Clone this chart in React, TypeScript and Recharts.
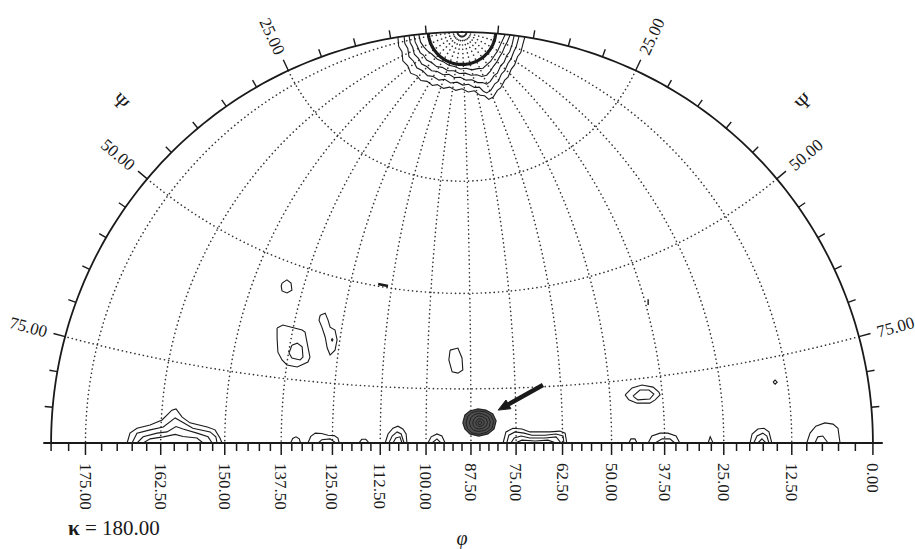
import { ScatterChart, Scatter, XAxis, YAxis, Label } from 'recharts'

type Pt = [number, number]
type XY = { x: number; y: number }

// chart units: stereographic net, primitive radius = 100
const NET_R = 100

// φ along the equator, ψ measured from the pole at the top
const PHI_LABELS = [0, 12.5, 25, 37.5, 50, 62.5, 75, 87.5, 100, 112.5, 125, 137.5, 150, 162.5, 175]
const PHI_MINOR_STEP = 2.5
const PHI_MERIDIANS = [12.5, 25, 37.5, 50, 62.5, 75, 87.5, 100, 112.5, 125, 137.5, 150, 162.5, 175]
const PSI_CIRCLES = [25, 50, 75]
const PSI_LABELS = [25, 50, 75]
const PSI_TICKS = [5, 10, 15, 20, 25, 30, 35, 40, 45, 50, 55, 60, 65, 70, 75, 80, 85]
const PSI_SYMBOL_AT = 45
const KAPPA = 180

// contour levels that follow ψ circles round the pole
const POLE_RINGS = [0.7, 4.7]

// wavy contours round the pole (x, y in net units)
const TOP_CONTOURS: Pt[][] = [
  [[-15.6, 98.7], [-15.4, 96.5], [-14.6, 95.2], [-14.4, 93.0], [-13.2, 91.8], [-12.5, 90.0], [-11.0, 89.4], [-10.0, 88.2], [-8.5, 88.0], [-7.2, 87.0], [-6.0, 87.2], [-4.5, 86.3], [-3.0, 86.6], [-1.5, 85.8], [0, 86.2], [1.5, 85.4], [3.0, 85.7], [4.4, 84.6], [5.5, 84.5], [6.5, 83.6], [7.6, 84.2], [8.6, 85.8], [9.4, 86.4], [10.4, 88.3], [11.2, 89.0], [12.0, 91.0], [12.8, 92.0], [13.5, 94.0], [14.3, 95.0], [14.8, 97.0], [15.3, 98.8]],
  [[-14.1, 99.0], [-13.9, 97.2], [-13.2, 96.0], [-12.9, 94.0], [-11.8, 92.9], [-11.0, 91.3], [-9.6, 90.6], [-8.4, 89.4], [-7.0, 89.2], [-5.6, 88.3], [-4.2, 88.5], [-2.8, 87.6], [-1.2, 87.8], [0.2, 87.1], [1.6, 87.3], [3.0, 86.5], [4.2, 86.6], [5.2, 85.6], [6.0, 85.2], [7.0, 85.8], [8.0, 87.4], [8.8, 88.0], [9.6, 89.8], [10.4, 90.6], [11.2, 92.4], [11.9, 93.4], [12.6, 95.2], [13.2, 96.4], [13.9, 99.0]],
  [[-12.9, 99.2], [-12.6, 97.4], [-12.0, 96.3], [-11.6, 94.6], [-10.6, 93.6], [-9.8, 92.2], [-8.6, 91.6], [-7.4, 90.6], [-6.0, 90.4], [-4.6, 89.6], [-3.2, 89.7], [-1.8, 88.9], [-0.4, 89.0], [1.0, 88.3], [2.4, 88.4], [3.8, 87.7], [5.0, 87.7], [6.0, 87.3], [6.9, 88.0], [7.8, 89.4], [8.6, 90.0], [9.4, 91.8], [10.2, 92.6], [10.9, 94.3], [11.6, 95.2], [12.2, 97.0], [12.7, 99.2]],
  [[-11.7, 99.3], [-11.4, 97.6], [-10.9, 96.6], [-10.2, 95.0], [-9.4, 94.4], [-8.6, 93.2], [-7.4, 92.6], [-6.2, 91.6], [-4.8, 91.4], [-3.4, 90.6], [-2.0, 90.6], [-0.6, 89.9], [0.8, 90.0], [2.2, 89.5], [3.6, 89.6], [4.8, 89.2], [6.0, 89.5], [6.9, 90.5], [7.6, 91.6], [8.4, 92.6], [9.1, 93.9], [9.8, 95.0], [10.4, 96.5], [11.0, 97.6], [11.7, 99.3]],
  [[-10.5, 99.4], [-10.1, 97.6], [-9.3, 96.4], [-8.4, 95.4], [-7.3, 94.6], [-6.0, 93.4], [-4.6, 92.8], [-3.2, 91.9], [-1.8, 91.6], [-0.4, 91.0], [1.0, 91.2], [2.4, 90.8], [3.8, 91.1], [5.1, 91.2], [6.2, 92.2], [7.0, 92.9], [7.9, 94.3], [8.6, 95.3], [9.4, 97.0], [10.5, 99.4]],
]

// contours sitting on the equator
const FOOT_CONTOURS: Pt[][] = [
  [[-81.5, 0], [-80.8, 2.4], [-79.1, 3.6], [-75.9, 4.4], [-73.0, 5.6], [-70.6, 8.0], [-69.6, 8.3], [-68.1, 6.3], [-66.2, 4.9], [-62.0, 3.9], [-60.1, 3.2], [-58.9, 1.2], [-58.4, 0]],
  [[-80.3, 0], [-79.1, 2.4], [-75.9, 3.2], [-72.7, 3.9], [-69.8, 6.1], [-68.1, 5.1], [-65.5, 3.6], [-61.3, 2.7], [-59.9, 1.5], [-59.6, 0]],
  [[-79.1, 0], [-77.6, 1.5], [-74.2, 2.4], [-71.8, 2.7], [-69.6, 4.0], [-67.9, 3.4], [-64.5, 2.4], [-61.8, 1.5], [-60.8, 0]],
  [[-77.6, 0], [-75.9, 1.0], [-72.7, 1.5], [-69.8, 2.1], [-67.9, 1.6], [-64.5, 1.2], [-63.0, 0]],
  [[-41.7, 0], [-41.2, 1.1], [-40.4, 1.5], [-39.6, 1.0], [-39.3, 0]],
  [[-37.5, 0], [-36.8, 1.6], [-35.7, 2.4], [-34.2, 2.3], [-32.6, 1.9], [-31.1, 1.8], [-30.2, 1.2], [-29.9, 0]],
  [[-35.0, 0], [-34.1, 0.8], [-32.1, 1.0], [-30.7, 0]],
  [[-25.1, 0], [-24.4, 0.9], [-23.4, 0.9], [-22.6, 0]],
  [[-18.7, 0], [-18.0, 2.2], [-16.8, 3.6], [-15.6, 4.1], [-14.4, 3.4], [-13.6, 2.2], [-13.4, 0]],
  [[-17.8, 0], [-17.0, 1.7], [-15.8, 2.7], [-14.8, 2.2], [-14.1, 0]],
  [[-16.8, 0], [-16.1, 1.2], [-15.1, 1.5], [-14.6, 0]],
  [[-8.3, 0], [-7.5, 1.5], [-6.1, 2.2], [-4.9, 1.7], [-4.1, 0]],
  [[-7.3, 0], [-6.1, 1.0], [-5.1, 0]],
  [[10.0, 0], [10.7, 2.7], [12.4, 3.6], [14.6, 3.4], [16.5, 2.7], [19.0, 2.7], [21.4, 2.7], [23.8, 2.9], [25.1, 2.4], [25.5, 0]],
  [[10.9, 0], [11.4, 1.9], [12.9, 2.7], [15.1, 2.4], [17.0, 1.9], [20.2, 1.9], [22.9, 2.2], [24.6, 1.7], [24.8, 0]],
  [[11.9, 0], [12.7, 1.2], [14.4, 1.7], [16.5, 1.2], [20.2, 1.2], [22.9, 1.5], [24.1, 0]],
  [[12.9, 0], [14.6, 0.7], [17.8, 0.5], [20.9, 0.7], [22.9, 0]],
  [[40.6, 0], [41.1, 1.0], [42.1, 1.0], [42.6, 0]],
  [[45.3, 0], [46.2, 1.7], [48.2, 2.4], [50.1, 2.4], [52.1, 1.7], [53.0, 0]],
  [[47.0, 0], [48.7, 1.0], [50.6, 1.0], [51.8, 0]],
  [[59.9, 0], [60.4, 1.5], [61.1, 0]],
  [[70.1, 0], [70.6, 2.2], [72.0, 3.4], [73.5, 3.6], [74.7, 2.7], [75.4, 0]],
  [[71.0, 0], [71.8, 1.7], [73.2, 2.4], [74.2, 1.7], [74.7, 0]],
  [[72.0, 0], [73.0, 1.0], [74.0, 0]],
  [[83.9, 0], [84.7, 2.4], [86.1, 4.1], [88.3, 4.9], [90.3, 4.6], [91.5, 3.6], [92.0, 0]],
  [[85.9, 0], [86.6, 1.5], [87.8, 1.7], [89.1, 0]],
]

// closed contours inside the net
const ISLANDS: Pt[][] = [
  [[-2.9, 22.6], [-1.0, 23.1], [0, 20.7], [0.2, 17.8], [-1.0, 17.0], [-2.4, 17.3], [-3.2, 20.2], [-2.9, 22.6]],
  [[39.7, 11.7], [41.4, 13.4], [43.8, 14.1], [46.5, 13.6], [47.9, 12.4], [48.2, 11.7], [47.0, 10.5], [45.7, 9.7], [42.6, 9.7], [40.6, 10.5], [39.7, 11.7]],
  [[41.6, 11.4], [43.3, 12.9], [45.5, 12.9], [46.7, 11.9], [45.7, 10.7], [42.8, 10.5], [41.6, 11.4]],
  [[75.7, 14.8], [76.2, 15.3], [76.7, 14.8], [76.2, 14.3], [75.7, 14.8]],
  [[-43.8, 38.9], [-42.6, 39.7], [-41.6, 38.9], [-41.4, 37.2], [-42.6, 36.5], [-43.8, 37.0], [-44.0, 38.2], [-43.8, 38.9]],
  [[-45.0, 28.0], [-43.6, 28.7], [-38.9, 27.5], [-38.2, 27.0], [-37.5, 23.4], [-37.0, 20.9], [-37.5, 19.7], [-40.1, 18.5], [-42.6, 19.0], [-43.8, 20.2], [-44.8, 22.1], [-45.0, 25.5], [-45.0, 28.0]],
  [[-41.4, 23.8], [-40.1, 24.3], [-38.9, 23.4], [-38.7, 20.9], [-39.4, 20.2], [-41.4, 20.7], [-42.1, 21.9], [-41.4, 23.8]],
  [[-34.5, 31.1], [-33.3, 31.6], [-32.6, 29.9], [-32.1, 28.2], [-30.9, 27.5], [-30.4, 25.1], [-30.9, 22.6], [-32.1, 21.4], [-32.8, 23.1], [-33.3, 25.8], [-34.1, 28.2], [-34.8, 29.9], [-34.5, 31.1]],
  [[-31.8, 25.1], [-31.6, 25.4], [-31.4, 25.1], [-31.6, 24.8], [-31.8, 25.1]],
]

// short streaks
const SPECKS: Pt[][] = [
  [[-20.4, 38.7], [-18.0, 38.2]],
  [[45.3, 35.0], [45.3, 33.6]],
]

// strong peak marked by the arrow
const PEAK_OUTLINE: Pt[] = [[0.2, 4.9], [0.7, 6.8], [1.9, 7.8], [3.9, 8.3], [5.8, 8.0], [7.5, 7.1], [8.3, 5.4], [7.8, 3.4], [6.3, 2.2], [4.1, 1.7], [1.9, 2.2], [0.7, 3.4], [0.2, 4.9]]
const PEAK_RINGS: Pt[][] = [
  [[1.0, 4.9], [1.4, 6.5], [2.4, 7.4], [4.0, 7.8], [5.6, 7.6], [7.0, 6.8], [7.7, 5.2], [7.3, 3.6], [6.0, 2.6], [4.1, 2.1], [2.3, 2.5], [1.3, 3.6], [1.0, 4.9]],
  [[1.8, 4.9], [2.2, 6.2], [3.0, 6.9], [4.0, 7.2], [5.2, 7.0], [6.4, 6.4], [6.9, 5.1], [6.6, 3.8], [5.6, 3.1], [4.1, 2.8], [2.8, 3.1], [2.1, 3.9], [1.8, 4.9]],
  [[2.6, 4.9], [2.9, 5.8], [3.5, 6.4], [4.1, 6.6], [5.0, 6.4], [5.9, 5.9], [6.2, 5.0], [5.9, 4.1], [5.1, 3.6], [4.1, 3.4], [3.3, 3.6], [2.8, 4.2], [2.6, 4.9]],
  [[3.3, 4.9], [3.6, 5.5], [4.1, 5.9], [4.8, 5.8], [5.3, 5.4], [5.4, 4.8], [5.0, 4.2], [4.1, 4.0], [3.6, 4.3], [3.3, 4.9]],
  [[3.9, 4.9], [4.1, 5.3], [4.6, 5.3], [4.8, 4.9], [4.5, 4.5], [4.1, 4.5], [3.9, 4.9]],
]
const ARROW_SHAFT: Pt[] = [[19.7, 14.1], [11.3, 9.4]]
const ARROW_HEAD: Pt[] = [[8.8, 8.0], [11.9, 8.35], [10.7, 10.45], [8.8, 8.0]]

const INK = '#1a1a1a'
const SERIF = "'Liberation Serif', 'DejaVu Serif', serif"

const rad = (d: number) => (d * Math.PI) / 180
const steps = (a: number, b: number, s: number) => {
  const out: number[] = []
  for (let v = a; v <= b + 1e-9; v += s) out.push(v)
  return out
}
// stereographic net with the ψ = 0 pole on the primitive
const project = (phi: number, psi: number): XY => {
  const sp = Math.sin(rad(psi))
  const d = 1 + Math.sin(rad(phi)) * sp
  return { x: (NET_R * Math.cos(rad(phi)) * sp) / d, y: (NET_R * Math.cos(rad(psi))) / d }
}
const toXY = (pts: Pt[]): XY[] => pts.map(([x, y]) => ({ x, y }))

const phiToX = (phi: number) => NET_R * Math.tan(rad((90 - phi) / 2))
const PHI_TICK_X = steps(0, 180, PHI_MINOR_STEP).map(phiToX)

const meridians = PHI_MERIDIANS.map((phi) => steps(0, 90, 1).map((psi) => project(phi, psi)))
const parallels = PSI_CIRCLES.map((psi) => steps(0, 180, 1).map((phi) => project(phi, psi)))
const poleRings = POLE_RINGS.map((psi) => steps(0, 180, 2).map((phi) => project(phi, psi)))
const primitive = steps(0, 180, 1).map((t) => ({ x: NET_R * Math.cos(rad(t)), y: NET_R * Math.sin(rad(t)) }))
const baseline = [{ x: -101.9, y: 0 }, { x: 102.4, y: 0 }]

const psiTickData = [-1, 1].flatMap((side) =>
  PSI_TICKS.map((psi) => ({ x: side * NET_R * Math.sin(rad(psi)), y: NET_R * Math.cos(rad(psi)), psi, side }))
)
const LABEL_R = 109.2
const SYMBOL_R = 117.5
const psiLabelData = [-1, 1].flatMap((side) =>
  PSI_LABELS.map((psi) => ({
    x: side * LABEL_R * Math.sin(rad(psi)),
    y: LABEL_R * Math.cos(rad(psi)),
    psi,
    side,
    text: psi.toFixed(2),
  }))
).concat(
  [-1, 1].map((side) => ({
    x: side * SYMBOL_R * Math.sin(rad(PSI_SYMBOL_AT)),
    y: SYMBOL_R * Math.cos(rad(PSI_SYMBOL_AT)),
    psi: PSI_SYMBOL_AT,
    side,
    text: 'Ψ',
  }))
)

const Nothing = () => <g />

const PsiTick = (p: any) => {
  const { cx, cy, payload } = p
  const a = rad(payload.psi)
  const len = PSI_LABELS.includes(payload.psi) ? 12 : 8
  return (
    <line
      x1={cx}
      y1={cy}
      x2={cx + payload.side * Math.sin(a) * len}
      y2={cy - Math.cos(a) * len}
      stroke={INK}
      strokeWidth={1.4}
    />
  )
}

const PsiLabel = (p: any) => {
  const { cx, cy, payload } = p
  const rot = -payload.side * (90 - payload.psi)
  const big = payload.text === 'Ψ'
  return (
    <text
      transform={`translate(${cx},${cy}) rotate(${rot})`}
      textAnchor="middle"
      dy="0.35em"
      fontFamily={SERIF}
      fontSize={big ? 20 : 17}
      fill={INK}
    >
      {payload.text}
    </text>
  )
}

const PhiTick = (p: any) => {
  const { x, y, payload } = p
  const raw = 90 - (2 * Math.atan(payload.value / NET_R) * 180) / Math.PI
  const phi = Math.round(raw / PHI_MINOR_STEP) * PHI_MINOR_STEP
  const major = PHI_LABELS.includes(phi)
  return (
    <g>
      <line x1={x} y1={y} x2={x} y2={y + (major ? 12 : 8)} stroke={INK} strokeWidth={1.5} />
      {major && (
        <text
          transform={`translate(${x},${y + 20}) rotate(90)`}
          dy="0.35em"
          fontFamily={SERIF}
          fontSize={17}
          fill={INK}
        >
          {phi.toFixed(2)}
        </text>
      )}
    </g>
  )
}

const Captions = (p: any) => {
  const vb = p.viewBox ?? { x: 10, y: 443, width: 904, height: 70 }
  const mid = vb.x + vb.width / 2
  return (
    <g fontFamily={SERIF} fill={INK}>
      <text x={mid - 394} y={vb.y + 92} fontSize={21}>
        <tspan fontWeight="bold">κ</tspan>
        {` = ${KAPPA.toFixed(2)}`}
      </text>
      <text x={mid} y={vb.y + 102} fontSize={20} fontStyle="italic" textAnchor="middle">
        φ
      </text>
    </g>
  )
}

const dotted = { stroke: '#333', strokeWidth: 1.6, strokeDasharray: '0.1 4.2', strokeLinecap: 'round' }
const contour = { stroke: INK, strokeWidth: 1.1 }

const path = (key: string, data: XY[], style: object) => (
  <Scatter key={key} data={data} line={style} shape={Nothing} isAnimationActive={false} />
)

export default function App() {
  return (
    <div style={{ position: 'absolute', left: 0, top: 0, background: '#fff' }}>
      <ScatterChart width={915} height={549} margin={{ top: 11.5, right: 1, bottom: 36, left: 10 }}>
        <XAxis
          type="number"
          dataKey="x"
          domain={[-110, 110]}
          ticks={PHI_TICK_X}
          interval={0}
          axisLine={false}
          tickLine={false}
          tickSize={0}
          tickMargin={0}
          height={70}
          tick={PhiTick}
        >
          <Label content={Captions} />
        </XAxis>
        <YAxis type="number" dataKey="y" domain={[0, 105]} hide />

        {meridians.map((d, i) => path(`m${i}`, d, dotted))}
        {parallels.map((d, i) => path(`p${i}`, d, dotted))}

        {poleRings.map((d, i) => path(`r${i}`, d, { stroke: INK, strokeWidth: i === 0 ? 1 : 3.2 }))}
        {TOP_CONTOURS.map((c, i) => path(`t${i}`, toXY(c), contour))}
        {FOOT_CONTOURS.map((c, i) => path(`f${i}`, toXY(c), contour))}
        {ISLANDS.map((c, i) => path(`i${i}`, toXY(c), contour))}
        {SPECKS.map((c, i) => path(`s${i}`, toXY(c), { stroke: INK, strokeWidth: i === 0 ? 2.4 : 1.4 }))}
        {path('peak', toXY(PEAK_OUTLINE), { stroke: '#222', strokeWidth: 1.2, fill: '#4e4e4e' })}
        {PEAK_RINGS.map((c, i) => path(`pr${i}`, toXY(c), { stroke: '#1c1c1c', strokeWidth: 0.9 }))}
        {path('shaft', toXY(ARROW_SHAFT), { stroke: INK, strokeWidth: 4.5 })}
        {path('head', toXY(ARROW_HEAD), { stroke: INK, strokeWidth: 1, fill: INK })}

        {path('primitive', primitive, { stroke: INK, strokeWidth: 1.8 })}
        {path('equator', baseline, { stroke: INK, strokeWidth: 2 })}
        <Scatter data={psiTickData} shape={PsiTick} isAnimationActive={false} />
        <Scatter data={psiLabelData} shape={PsiLabel} isAnimationActive={false} />
      </ScatterChart>
    </div>
  )
}
